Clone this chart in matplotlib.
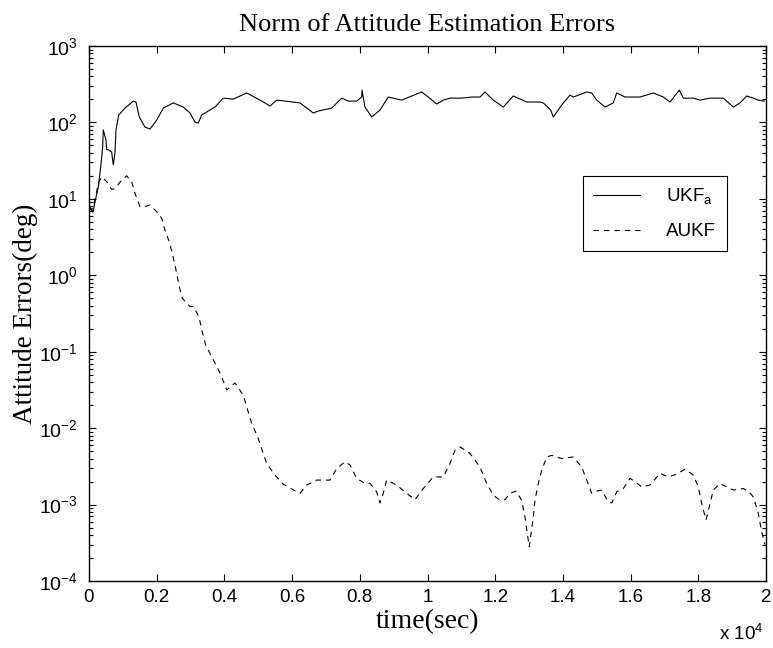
import matplotlib
matplotlib.use("Agg")
import matplotlib.pyplot as plt
from matplotlib.ticker import LogLocator, NullFormatter

plt.rcParams['mathtext.fontset'] = 'custom'
plt.rcParams['mathtext.rm'] = 'Liberation Sans'
plt.rcParams['mathtext.it'] = 'Liberation Sans'
plt.rcParams['lines.scale_dashes'] = False

# Dane (czas w sekundach, błąd w stopniach)
t_ukf = [0, 30, 118, 177, 275, 346, 405, 422, 502, 523, 570, 671, 700, 718, 768, 798,
         877, 1063, 1309, 1388, 1486, 1654, 1802, 2000, 2195, 2490, 2786, 2984, 3131,
         3229, 3329, 3722, 3967, 4263, 4659, 5051, 5347, 5545, 6233, 6626, 6774, 7169,
         7465, 7660, 7908, 8056, 8065, 8153, 8351, 8596, 8841, 9237, 9828, 10023, 10271,
         10466, 10664, 11010, 11305, 11550, 11698, 11943, 12238, 12534, 12930, 13323,
         13420, 13639, 13716, 13964, 14209, 14307, 14702, 14850, 14998, 15243, 15488,
         15589, 15834, 16277, 16669, 16965, 17163, 17438, 17556, 17852, 18049, 18345,
         18737, 19033, 19231, 19429, 19623, 19762, 19950]
e_ukf = [7.5, 7.8, 6.7, 9.1, 14.3, 26, 48, 80, 59, 44, 44, 41, 32, 28, 40, 80,
         125, 154, 190, 185, 118, 87, 82, 107, 154, 180, 159, 133, 101,
         98, 125, 159, 208, 202, 243, 196, 164, 196, 180, 133, 141, 154,
         208, 190, 190, 215, 265, 159, 118, 145, 215, 196, 250, 215, 174,
         196, 208, 208, 215, 215, 250, 196, 159, 222, 185, 185,
         180, 145, 118, 169, 228, 215, 250, 243, 196, 159, 180,
         243, 215, 215, 243, 215, 185, 265, 208, 208, 196, 208,
         208, 159, 180, 222, 208, 196, 190]

t_aukf = [0, 80, 177, 275, 375, 523, 671, 768, 966, 1114, 1261, 1359, 1507, 1604, 1802,
          2000, 2148, 2245, 2372, 2472, 2570, 2659, 2756, 2984, 3081, 3249, 3347, 3447,
          3625, 3849, 4017, 4067, 4313, 4558, 4688, 4806, 4983, 5119, 5249, 5494, 5740,
          6135, 6233, 6431, 6726, 7119, 7317, 7562, 7710, 7908, 8153, 8301, 8498, 8596,
          8693, 8794, 9089, 9385, 9630, 9875, 10170, 10466, 10664, 10812, 10959, 11255,
          11550, 11748, 11943, 12141, 12289, 12437, 12614, 12782, 12879, 12947, 13006,
          13125, 13175, 13273, 13373, 13521, 13668, 13964, 14307, 14554, 14702, 14850,
          14998, 15145, 15340, 15441, 15589, 15785, 15983, 16129, 16328, 16572, 16867,
          17112, 17360, 17606, 17852, 18000, 18100, 18227, 18345, 18442, 18640, 18838,
          19033, 19328, 19476, 19623, 19771, 19871, 19970]
e_aukf = [7.5, 7.1, 9.6, 16, 19.5, 16.8, 13.3, 13.6, 17.6, 20, 16.8, 11.8, 7.9, 7.8, 8.3,
          6.8, 5.6, 3.9, 2.75, 1.84, 1.17, 0.74, 0.50, 0.39, 0.39, 0.286, 0.182, 0.122,
          0.086, 0.055, 0.0366, 0.0316, 0.039, 0.027, 0.0172, 0.0115, 0.0077, 0.0051,
          0.00345, 0.00243, 0.00185, 0.00147, 0.0014, 0.0018, 0.00209, 0.00209, 0.00295,
          0.00363, 0.0033, 0.0022, 0.00189, 0.0019, 0.00147, 0.00105, 0.0014, 0.0021,
          0.0018, 0.0014, 0.00116, 0.00162, 0.0023, 0.0023, 0.00345, 0.00515, 0.0057,
          0.00467, 0.0031, 0.00189, 0.00133, 0.00114, 0.00116, 0.0014, 0.0015, 0.00114,
          0.00069, 0.00042, 0.00028, 0.00069, 0.00114, 0.00189, 0.0028, 0.0042, 0.0044,
          0.0040, 0.0042, 0.0031, 0.0021, 0.0014, 0.0015, 0.00155, 0.00108, 0.00105,
          0.00147, 0.00162, 0.0022, 0.002, 0.0017, 0.0018, 0.00255, 0.0023, 0.0025,
          0.0029, 0.00243, 0.0017, 0.00103, 0.00063, 0.00103, 0.00155, 0.00189, 0.0017,
          0.00155, 0.00162, 0.0015, 0.00126, 0.00077, 0.00044, 0.0003]

x_ticks = [0, 2000, 4000, 6000, 8000, 10000, 12000, 14000, 16000, 18000, 20000]
x_labels = ["0", "0.2", "0.4", "0.6", "0.8", "1", "1.2", "1.4", "1.6", "1.8", "2"]
y_ticks = [1e-4, 1e-3, 1e-2, 1e-1, 1e0, 1e1, 1e2, 1e3]
y_labels = ["$10^{-4}$", "$10^{-3}$", "$10^{-2}$", "$10^{-1}$", "$10^{0}$",
            "$10^{1}$", "$10^{2}$", "$10^{3}$"]

fig = plt.figure(figsize=(7.73, 6.48), dpi=100)
ax = fig.add_axes([0.1151, 0.1034, 0.8759, 0.8256])

ax.semilogy(t_ukf, e_ukf, color='black', lw=0.8, label='UKF$_a$')
ax.semilogy(t_aukf, e_aukf, color='black', lw=0.8, dashes=(4, 3.5), label='AUKF')

ax.set_xlim(0, 20000)
ax.set_ylim(1e-4, 1e3)
ax.set_xticks(x_ticks)
ax.set_xticklabels(x_labels, family='Liberation Sans', fontsize=13.5)
ax.set_yticks(y_ticks)
ax.set_yticklabels(y_labels, fontsize=14)
ax.yaxis.set_minor_locator(LogLocator(base=10, subs=range(2, 10), numticks=20))
ax.yaxis.set_minor_formatter(NullFormatter())
ax.tick_params(which='both', direction='in', top=True, right=True, width=0.8)
ax.tick_params(axis='y', which='major', length=5, pad=8)
ax.tick_params(axis='x', which='major', length=5, pad=6)
ax.tick_params(which='minor', length=3)
for s in ax.spines.values():
    s.set_linewidth(1.0)

ax.set_title("Norm of Attitude Estimation Errors", family='Liberation Serif',
             fontsize=19, pad=11)
ax.set_xlabel("time(sec)", family='Liberation Serif', fontsize=20, labelpad=2)
ax.set_ylabel("Attitude Errors(deg)", family='Liberation Serif', fontsize=19.5, labelpad=1)
fig.text(0.930, 0.013, "x 10$^{4}$", family='Liberation Sans', fontsize=13.5)

leg = ax.legend(loc='upper right', bbox_to_anchor=(0.942, 0.757),
                prop={'family': 'Liberation Sans', 'size': 13.5}, fancybox=False,
                edgecolor='black', framealpha=1, handlelength=2.5, handletextpad=1.4,
                borderpad=0.55, labelspacing=0.9, borderaxespad=0)
leg.get_frame().set_linewidth(0.8)

fig.savefig("out.png", dpi=100)
